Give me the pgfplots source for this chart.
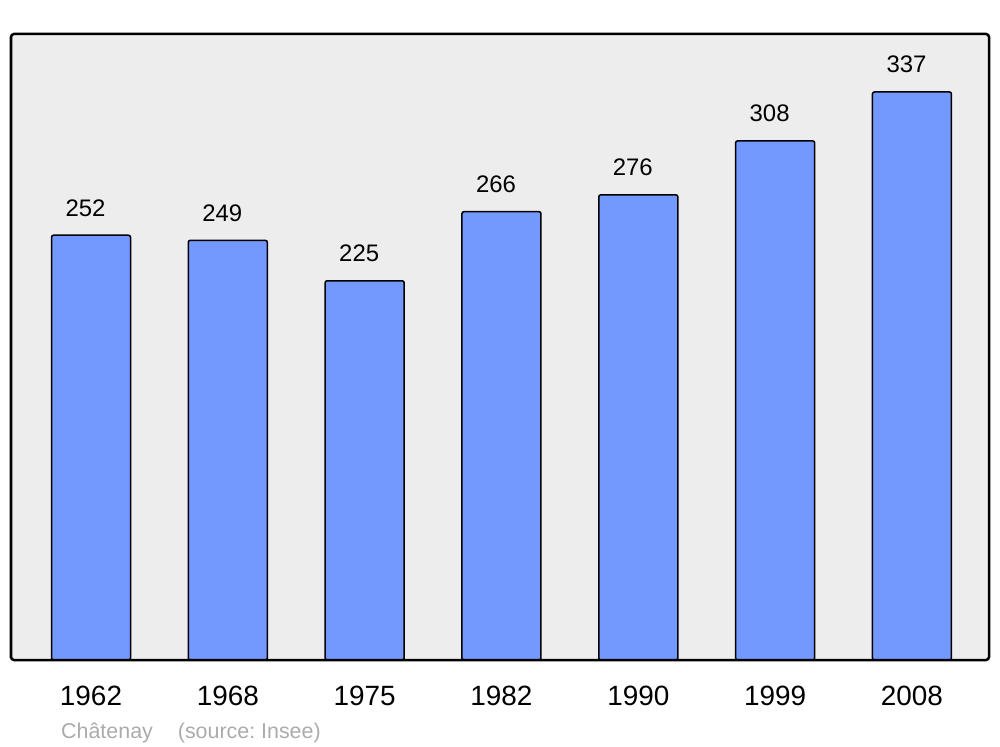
\documentclass[border=0pt]{standalone}
\usepackage{fontspec}
\setmainfont{Liberation Sans}
\usepackage{pgfplots}
\pgfplotsset{compat=1.18}
\definecolor{barblue}{HTML}{7399FF}
\definecolor{bgray}{HTML}{EDEDED}
\definecolor{srcgray}{HTML}{ABABAB}
\frenchspacing
\begin{document}
\begin{tikzpicture}
\useasboundingbox (-11bp,-87bp) rectangle (989bp,660bp);
\begin{axis}[
  scale only axis, width=978bp, height=626bp,
  xmin=-0.5847, xmax=6.563, ymin=0, ymax=371.4,
  ybar, bar width=79bp, bar shift=0pt,
  xtick={0,...,6}, xticklabels={1962,1968,1975,1982,1990,1999,2008},
  ytick=\empty, major tick length=0pt,
  axis on top,
  axis line style={line width=2.5bp, rounded corners=3bp},
  axis background/.style={fill=bgray, rounded corners=3bp},
  xticklabel style={font=\fontsize{28}{28}\selectfont, anchor=base, yshift=-45bp, inner sep=0pt},
  /pgf/number format/assume math mode=true,
  nodes near coords,
  nodes near coords style={font=\fontsize{24}{24}\selectfont, anchor=south, inner sep=0pt, yshift=18bp, xshift=-5.5bp, text=black},
]
\addplot[fill=barblue, draw=black, line width=1.5bp, rounded corners=2bp] coordinates {(0,252)(1,249)(2,225)(3,266)(4,276)(5,308)(6,337)};
\end{axis}
\node[anchor=base west, text=srcgray, font=\fontsize{21.5}{21.5}\selectfont, inner sep=0pt] at (50bp,-78bp) {Châtenay\hspace{25bp}(source: Insee)};
\end{tikzpicture}
\end{document}
